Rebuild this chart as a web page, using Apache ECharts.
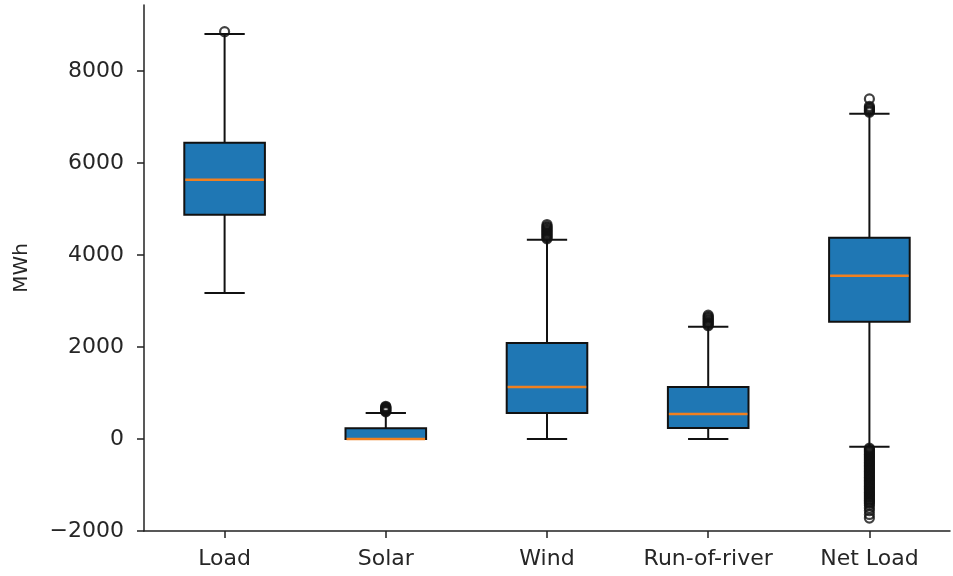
<!DOCTYPE html>
<html>
<head>
<meta charset="utf-8">
<script src="https://cdn.jsdelivr.net/npm/echarts@6/dist/echarts.min.js"></script>
<style>
html,body{margin:0;padding:0;background:#fff;}
#chart{width:953px;height:576px;}
</style>
</head>
<body>
<div id="chart"></div>
<script>
const categories = ['Load', 'Solar', 'Wind', 'Run-of-river', 'Net Load'];
const whiskerLow  = [3170, 0, 0, 0, -170];
const q1          = [4870, 0, 565, 240, 2545];
const median      = [5630, 0, 1130, 545, 3545];
const q3          = [6435, 235, 2087, 1130, 4370];
const whiskerHigh = [8800, 565, 4330, 2440, 7065];

const outliersLoad = [8850];
const outliersSolar = [590, 605, 620, 635, 650, 665, 680, 695, 710];
const outliersWind = [4350, 4375, 4400, 4425, 4450, 4475, 4500, 4525, 4550, 4575, 4600, 4625, 4660];
const outliersRiver = [2460, 2485, 2510, 2535, 2560, 2585, 2610, 2635, 2660, 2690];
const outliersNetLoad = [7100, 7125, 7150, 7175, 7200, 7230, 7390,
  -200, -225, -250, -275, -300, -325, -350, -375, -400, -425, -450, -475, -500,
  -525, -550, -575, -600, -625, -650, -675, -700, -725, -750, -775, -800, -825,
  -850, -875, -900, -925, -950, -975, -1000, -1025, -1050, -1075, -1100, -1125,
  -1150, -1175, -1200, -1225, -1250, -1275, -1300, -1325, -1350, -1375, -1400,
  -1440, -1500, -1560, -1640, -1720];

const yTicks = [-2000, 0, 2000, 4000, 6000, 8000];

const boxData = categories.map((c, i) => [i, whiskerLow[i], q1[i], median[i], q3[i], whiskerHigh[i]]);
const outlierGroups = [outliersLoad, outliersSolar, outliersWind, outliersRiver, outliersNetLoad];
const outlierData = [];
outlierGroups.forEach((g, i) => g.forEach(v => outlierData.push([i, v])));

const chart = echarts.init(document.getElementById('chart'));
const fontFamily = 'DejaVu Sans';
chart.setOption({
  animation: false,
  backgroundColor: '#fff',
  grid: {left: 144, right: 3, top: 5, bottom: 45, containLabel: false, outerBoundsMode: 'none'},
  xAxis: {
    type: 'category',
    data: categories,
    boundaryGap: true,
    axisLine: {show: true, onZero: false, lineStyle: {color: '#222', width: 1.5}},
    axisTick: {show: true, alignWithLabel: true, length: 7, lineStyle: {color: '#222', width: 1.5}},
    axisLabel: {interval: 0, fontSize: 22, color: '#262626', fontFamily, margin: 17},
    splitLine: {show: false}
  },
  yAxis: {
    type: 'value',
    min: -2000,
    max: 9430,
    interval: 2000,
    name: 'MWh',
    nameLocation: 'middle',
    nameGap: 112,
    nameRotate: 90,
    nameTextStyle: {fontSize: 20, color: '#262626', fontFamily},
    axisLine: {show: true, lineStyle: {color: '#222', width: 1.5}},
    axisTick: {show: true, length: 7, customValues: yTicks, lineStyle: {color: '#222', width: 1.5}},
    axisLabel: {
      fontSize: 22, color: '#262626', fontFamily, margin: 20, customValues: yTicks,
      formatter: v => (v < 0 ? '\u2212' + Math.abs(v) : String(v))
    },
    splitLine: {show: false}
  },
  series: [
    {
      type: 'custom',
      data: boxData,
      encode: {x: 0, y: [1, 2, 3, 4, 5]},
      renderItem: function (params, api) {
        const i = api.value(0);
        const band = api.size([1, 0])[0];
        const bw = band * 0.5, cw = band * 0.25;
        const x = api.coord([i, 0])[0];
        const yLo = api.coord([i, api.value(1)])[1];
        const yQ1 = api.coord([i, api.value(2)])[1];
        const yMed = api.coord([i, api.value(3)])[1];
        const yQ3 = api.coord([i, api.value(4)])[1];
        const yHi = api.coord([i, api.value(5)])[1];
        const ls = {stroke: '#111', lineWidth: 2};
        return {
          type: 'group',
          children: [
            {type: 'line', shape: {x1: x, y1: yQ3, x2: x, y2: yHi}, style: ls},
            {type: 'line', shape: {x1: x, y1: yLo, x2: x, y2: yQ1}, style: ls},
            {type: 'line', shape: {x1: x - cw / 2, y1: yHi, x2: x + cw / 2, y2: yHi}, style: ls},
            {type: 'line', shape: {x1: x - cw / 2, y1: yLo, x2: x + cw / 2, y2: yLo}, style: ls},
            {type: 'rect', shape: {x: x - bw / 2, y: yQ3, width: bw, height: yQ1 - yQ3},
              style: {fill: '#1f77b4', stroke: '#111', lineWidth: 2}},
            {type: 'line', shape: {x1: x - bw / 2 + 1, y1: yMed, x2: x + bw / 2 - 1, y2: yMed},
              style: {stroke: '#f08020', lineWidth: 2.5}}
          ]
        };
      },
      z: 2
    },
    {
      type: 'scatter',
      data: outlierData,
      symbol: 'circle',
      symbolSize: 9,
      itemStyle: {color: 'rgba(0,0,0,0)', borderColor: '#111', borderWidth: 2.2},
      z: 3
    }
  ]
});
</script>
</body>
</html>
